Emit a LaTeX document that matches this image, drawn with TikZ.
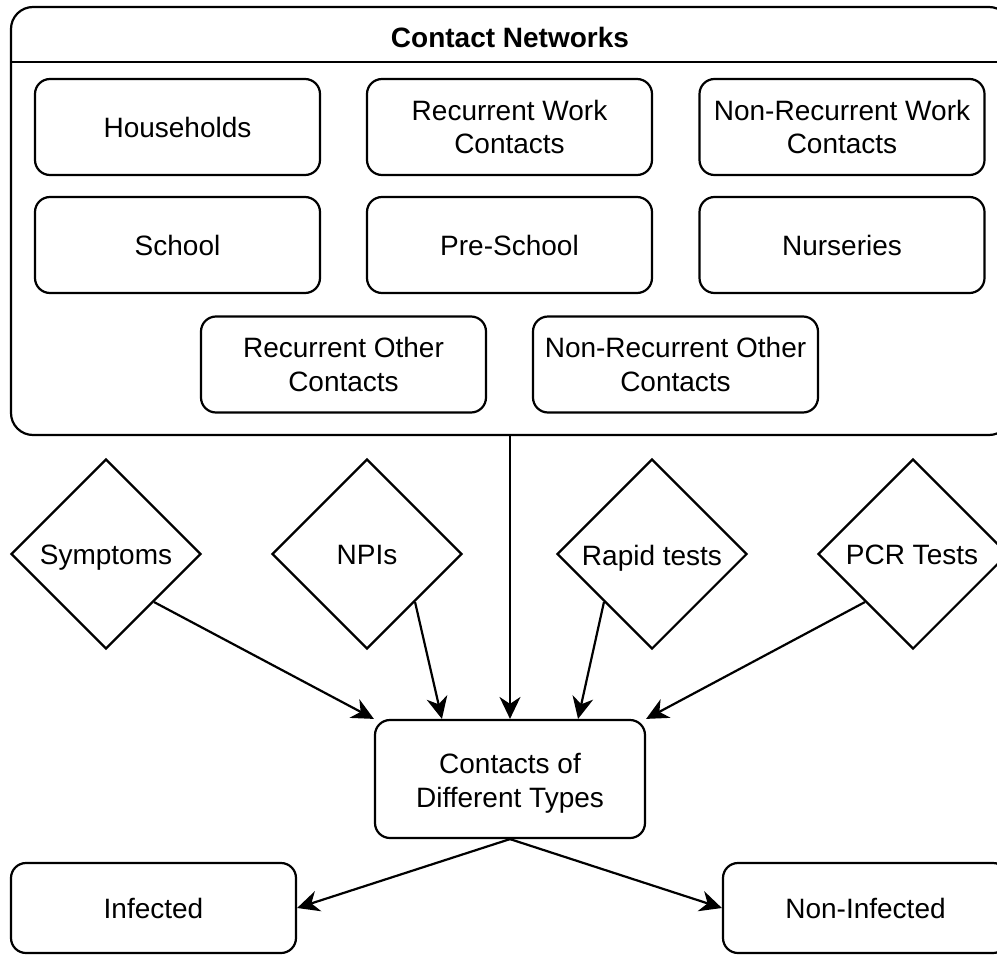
\documentclass[tikz,border=0pt]{standalone}
\usepackage{fontspec}
\setmainfont{Liberation Sans}
\usetikzlibrary{shapes.geometric,arrows.meta,calc}
\tikzset{
  every node/.style={font=\fontsize{28}{33.6}\selectfont, align=center, inner sep=0pt},
  sbox/.style={draw, line width=2.2pt, rounded corners=15pt, minimum width=285pt, minimum height=96pt},
  cont/.style={draw, line width=2.2pt, rounded corners=22pt, minimum width=1000pt, minimum height=428pt},
  dia/.style={draw, line width=2.2pt, diamond, minimum width=190pt, minimum height=190pt, aspect=1},
  lbl/.style={text depth=0pt},
  arr/.style={line width=2.2pt, -{Stealth[length=22pt, width=21pt, inset=7pt]}},
  ln/.style={line width=2.2pt}
}
\begin{document}
\begin{tikzpicture}[x=1pt, y=-1pt]
\useasboundingbox (0,0) rectangle (997,956);
% container
\node[cont] (net) at (511,221) {};
\node[lbl, font=\fontsize{28}{33.6}\selectfont\bfseries] (title) at (510,37) {Contact Networks};
\coordinate (tl) at (11,62);
\coordinate (tr) at (1011,62);
\draw[ln] (tl) -- (tr);
% row 1
\node[sbox] (hh) at (177.5,127) {Households};
\node[sbox] (rw) at (509.5,127) {Recurrent Work\\Contacts};
\node[sbox] (nrw) at (842,127) {Non-Recurrent Work\\Contacts};
% row 2
\node[sbox] (sch) at (177.5,245) {School};
\node[sbox] (pre) at (509.5,245) {Pre-School};
\node[sbox] (nur) at (842,245) {Nurseries};
% row 3
\node[sbox] (ro) at (343.5,364.5) {Recurrent Other\\Contacts};
\node[sbox] (nro) at (675.5,364.5) {Non-Recurrent Other\\Contacts};
% diamonds
\node[dia] (sym) at (106,554) {};
\node[lbl] (symt) at (106,555) {Symptoms};
\node[dia] (npi) at (367,554) {};
\node[lbl] (npit) at (367,555) {NPIs};
\node[dia] (rap) at (652,554) {};
\node[lbl] (rapt) at (652,555) {Rapid tests};
\node[dia] (pcr) at (913,554) {};
\node[lbl] (pcrt) at (912,555) {PCR Tests};
% central box
\node[sbox, minimum width=270pt, minimum height=118pt] (cdt) at (510,779) {};
\node (cdtt) at (510,783) {Contacts of\\Different Types};
% outcomes
\node[sbox, minimum height=90pt] (inf) at (153.5,908) {Infected};
\node[sbox, minimum height=90pt] (ninf) at (865.5,908) {Non-Infected};
% edges
\draw[arr] (net.south -| cdt.north) -- (cdt.north);
\draw[arr] (sym.south east) -- (cdt.north west);
\draw[arr] (npi.south east) -- ($(cdt.north west)!0.25!(cdt.north east)$);
\draw[arr] (rap.south west) -- ($(cdt.north west)!0.75!(cdt.north east)$);
\draw[arr] (pcr.south west) -- (cdt.north east);
\draw[arr] (cdt.south) -- (inf.east);
\draw[arr] (cdt.south) -- (ninf.west);
\end{tikzpicture}
\end{document}
